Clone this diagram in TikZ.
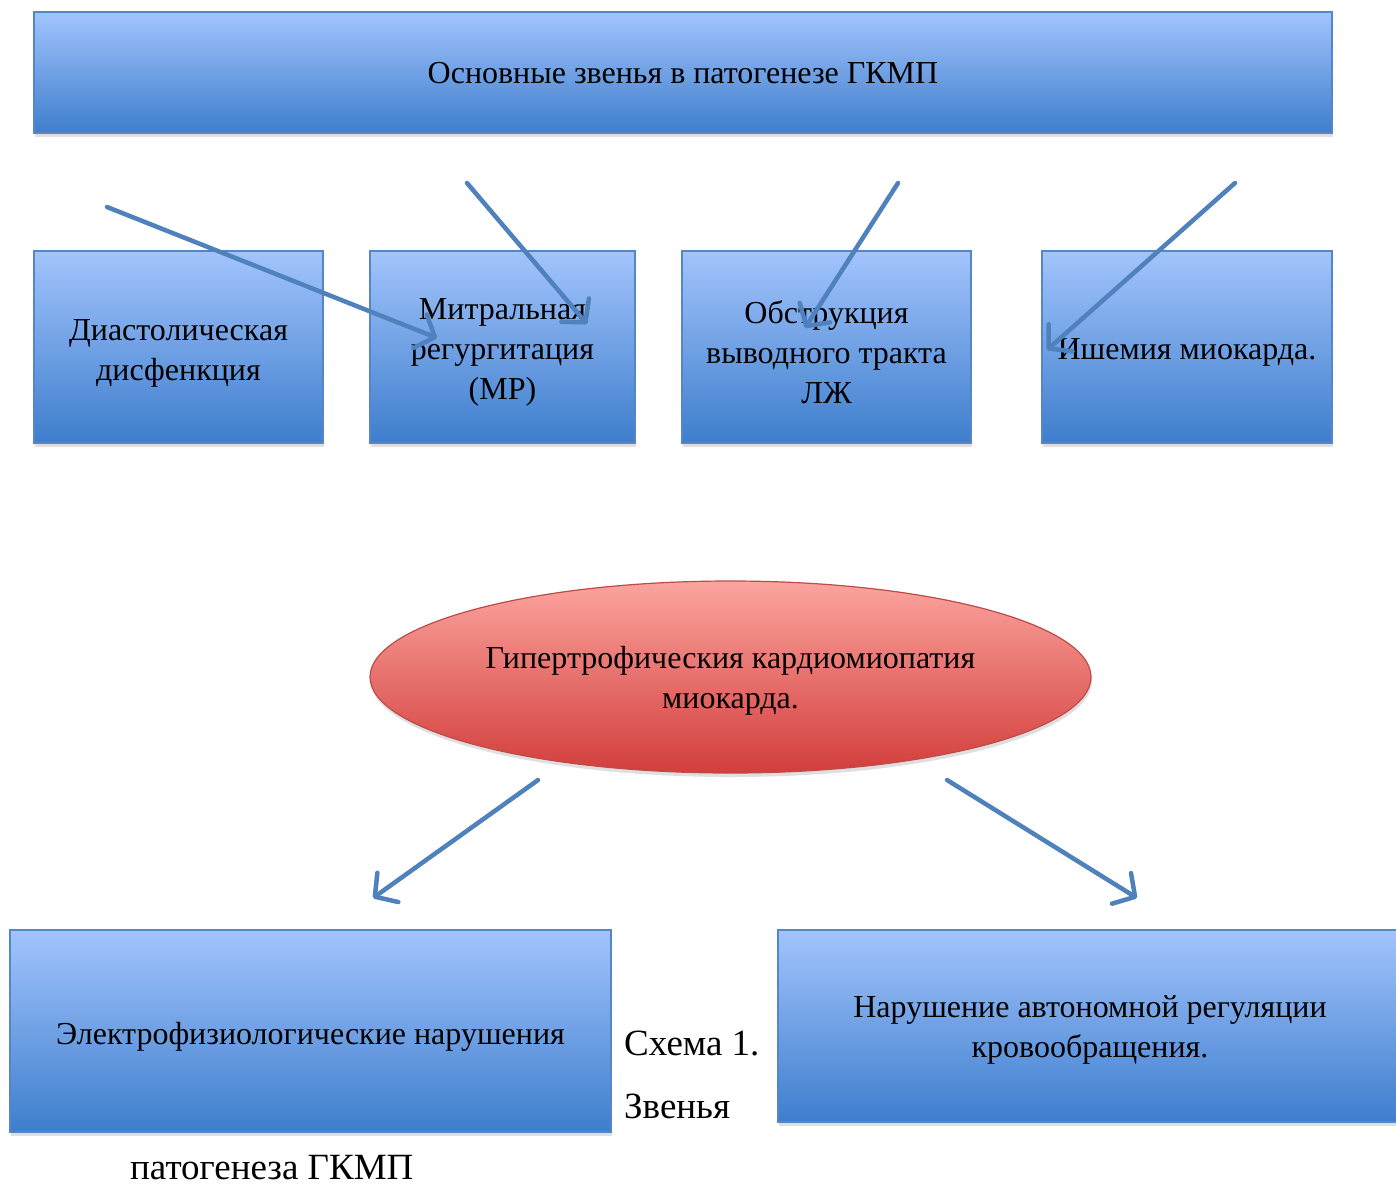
\documentclass[tikz,border=0pt]{standalone}
\usepackage{fontspec}
\setmainfont{Liberation Serif}
\usetikzlibrary{arrows.meta,shadows,shapes.geometric}
\definecolor{arrowblue}{RGB}{79,129,189}
\definecolor{boxtop}{RGB}{162,196,252}
\definecolor{boxbot}{RGB}{62,126,205}
\definecolor{boxedge}{RGB}{84,134,200}
\definecolor{elltop}{RGB}{252,164,158}
\definecolor{ellbot}{RGB}{210,62,60}
\definecolor{elledge}{RGB}{190,75,72}
\tikzset{
  txt/.style={font=\fontsize{32}{40}\selectfont, text=black, align=center, inner sep=0pt},
  bluebox/.style={rectangle, draw=boxedge, line width=1.2pt,
    top color=boxtop, bottom color=boxbot, inner sep=0pt,
    drop shadow={shadow xshift=1pt, shadow yshift=-4pt, opacity=0.25}},
  redell/.style={ellipse, draw=elledge, line width=1.2pt,
    top color=elltop, bottom color=ellbot, inner sep=0pt,
    drop shadow={shadow xshift=1pt, shadow yshift=-4pt, opacity=0.25}},
  arr/.style={draw=arrowblue, line width=4.5pt, line cap=round,
    -{Straight Barb[round, length=16pt, width=36pt]}},
  caption/.style={font=\fontsize{37}{44}\selectfont, text=black, anchor=west, inner sep=0pt}
}
\begin{document}
\begin{tikzpicture}[x=1pt,y=-1pt]
\useasboundingbox (0,0) rectangle (1396,1184);
\fill[white] (0,0) rectangle (1396,1184);
% top box
\node[bluebox, minimum width=1298pt, minimum height=121pt,
  label={[txt, yshift=-1pt]center:{Основные звенья в патогенезе ГКМП}}] (top) at (683,72.5) {};
% row boxes
\node[bluebox, minimum width=289pt, minimum height=192pt,
  label={[txt, yshift=-6pt]center:{Диастолическая\\дисфенкция}}] (b1) at (178.5,347) {};
\node[bluebox, minimum width=265pt, minimum height=192pt,
  label={[txt, yshift=-5pt]center:{Митральная\\регургитация\\(МР)}}] (b2) at (502.5,347) {};
\node[bluebox, minimum width=289pt, minimum height=192pt,
  label={[txt, yshift=-5pt]center:{Обструкция\\выводного тракта\\ЛЖ}}] (b3) at (826.5,347) {};
\node[bluebox, minimum width=290pt, minimum height=192pt,
  label={[txt, yshift=-5pt]center:{Ишемия миокарда.}}] (b4) at (1187,347) {};
% ellipse
\node[redell, minimum width=721pt, minimum height=192pt,
  label={[txt, yshift=-4pt]center:{Гипертрофическия кардиомиопатия\\миокарда.}}] (hcm) at (730.5,677) {};
% bottom boxes
\node[bluebox, minimum width=601pt, minimum height=202pt,
  label={[txt, yshift=-6pt]center:{Электрофизиологические нарушения}}] (el) at (310.5,1031) {};
\node[bluebox, minimum width=624pt, minimum height=192pt,
  label={[txt, yshift=-4pt]center:{Нарушение автономной регуляции\\кровообращения.}}] (au) at (1090,1026) {};
% captions
\node[caption] (c1) at (624,1043) {Схема 1.};
\node[caption] (c2) at (624,1106) {Звенья};
\node[caption] (c3) at (130,1168) {патогенеза ГКМП};
% arrow ends
\coordinate (s1) at (107,207);  \coordinate (e1) at (437,338);
\coordinate (s2) at (467,183);  \coordinate (e2) at (587,324);
\coordinate (s3) at (898,183);  \coordinate (e3) at (805,328);
\coordinate (s4) at (1235,183); \coordinate (e4) at (1047,350);
\coordinate (s5) at (538,780);  \coordinate (e5) at (373,898);
\coordinate (s6) at (947,780);  \coordinate (e6) at (1137,898);
\draw[arr] (s1) -- (e1);
\draw[arr] (s2) -- (e2);
\draw[arr] (s3) -- (e3);
\draw[arr] (s4) -- (e4);
\draw[arr] (s5) -- (e5);
\draw[arr] (s6) -- (e6);
\end{tikzpicture}
\end{document}
